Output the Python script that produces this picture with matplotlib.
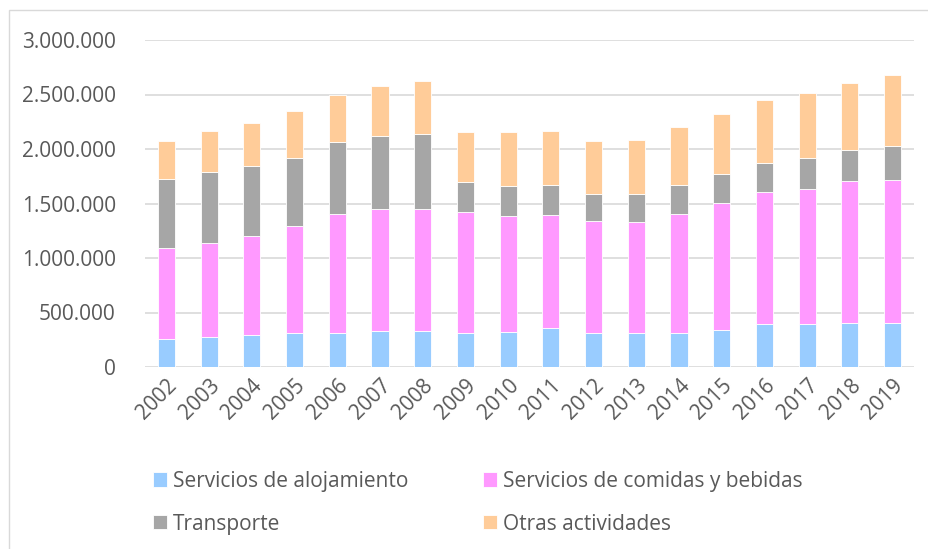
import matplotlib
matplotlib.use("Agg")
import matplotlib.pyplot as plt
from matplotlib.patches import Rectangle
from matplotlib.ticker import FuncFormatter
import numpy as np

years = [str(y) for y in range(2002, 2020)]
alojamiento = [260, 276, 294, 309, 309, 334, 328, 315, 321, 358, 315, 309, 315, 343, 395, 398, 404, 404]
comidas = [836, 860, 906, 980, 1093, 1117, 1123, 1106, 1063, 1041, 1020, 1020, 1090, 1160, 1209, 1234, 1301, 1311]
transporte = [625, 649, 646, 631, 662, 668, 689, 275, 279, 273, 254, 257, 264, 267, 270, 285, 282, 315]
otras = [352, 380, 395, 425, 434, 456, 484, 463, 489, 493, 487, 496, 535, 554, 572, 594, 619, 646]
series_names = ["Servicios de alojamiento", "Servicios de comidas y bebidas", "Transporte", "Otras actividades"]
colors = ["#99ccff", "#ff99ff", "#a6a6a6", "#ffcc99"]

plt.rcParams['font.family'] = ['Open Sans', 'DejaVu Sans']

fig = plt.figure(figsize=(9.29, 5.49), dpi=100)
fig.patches.append(Rectangle((9/929, -0.1), 2, 1 - 10/549 + 0.1, transform=fig.transFigure,
                             fill=False, edgecolor="#d9d9d9", linewidth=1))
ax = fig.add_axes([145/929, 1 - 367/549, (914-145)/929, (367-40)/549])

x = np.arange(len(years))
data = [np.array(alojamiento)*1000, np.array(comidas)*1000, np.array(transporte)*1000, np.array(otras)*1000]
bottom = np.zeros(len(years))
handles = []
for vals, name, c in zip(data, series_names, colors):
    h = ax.bar(x, vals, 0.4, bottom=bottom, color=c, edgecolor="white", linewidth=0.6, label=name, zorder=3)
    handles.append(h)
    bottom += vals

ax.set_xlim(-0.5, len(years) - 0.5)
ax.set_ylim(0, 3000000)
ax.set_yticks(np.arange(0, 3000001, 500000))
ax.yaxis.set_major_formatter(FuncFormatter(lambda v, p: f"{int(v):,}".replace(",", ".")))
ax.set_xticks(x)
ax.set_xticklabels(years, rotation=45, ha="right", rotation_mode="anchor")
ax.grid(axis="y", color="#d9d9d9", linewidth=1.2, zorder=0)
for s in ax.spines.values():
    s.set_visible(False)
ax.tick_params(axis="both", length=0, labelsize=15, colors="#595959")
ax.tick_params(axis="y", pad=21)
ax.tick_params(axis="x", pad=6)

order = [0, 2, 1, 3]
leg = fig.legend([handles[i] for i in order], [series_names[i] for i in order],
                 ncol=2, loc="upper left", bbox_to_anchor=(134/929, 1 - 452/549),
                 frameon=False, fontsize=15, handlelength=0.68, handleheight=0.68,
                 handletextpad=0.3, labelspacing=1.05, columnspacing=3.55)
for t in leg.get_texts():
    t.set_color("#595959")

fig.savefig("out.png", dpi=100)
